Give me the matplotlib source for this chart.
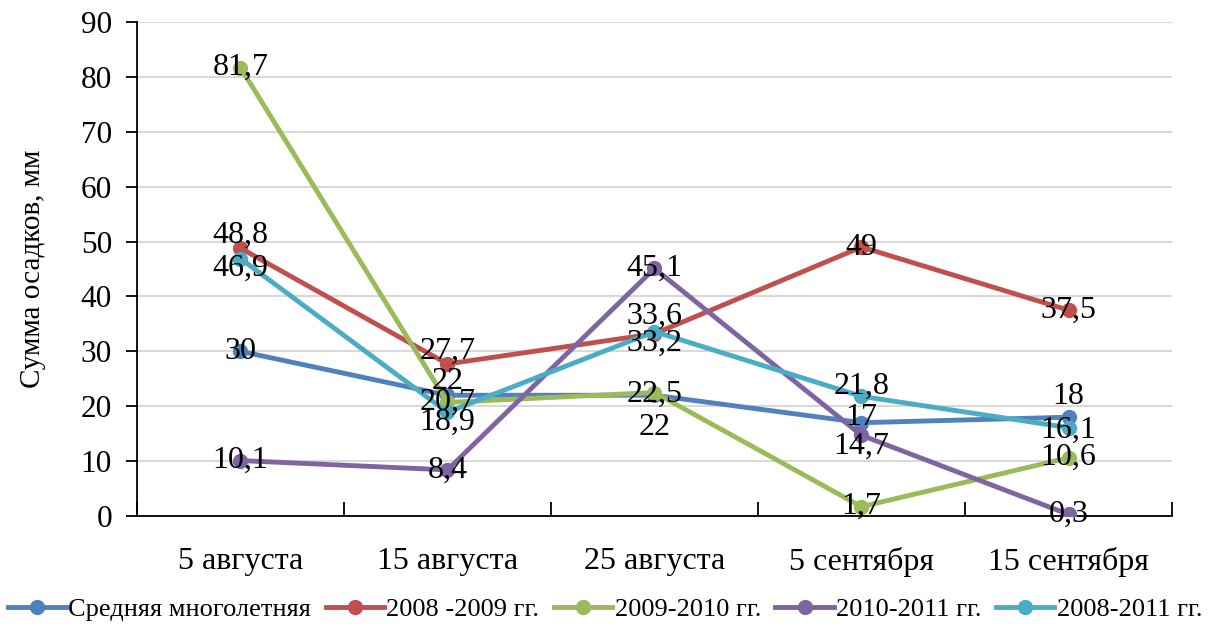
import matplotlib
matplotlib.use("Agg")
import matplotlib.pyplot as plt
from matplotlib.lines import Line2D

plt.rcParams['font.family'] = ['Liberation Serif', 'DejaVu Serif']

categories = ["5 августа", "15 августа", "25 августа", "5 сентября", "15 сентября"]

series_names = ["Средняя многолетняя", "2008 -2009 гг.", "2009-2010 гг.",
                "2010-2011 гг.", "2008-2011 гг."]
avg_long_term = [30, 22, 22, 17, 18]
y2008_2009 = [48.8, 27.7, 33.2, 49, 37.5]
y2009_2010 = [81.7, 20.7, 22.5, 1.7, 10.6]
y2010_2011 = [10.1, 8.4, 45.1, 14.7, 0.3]
y2008_2011 = [46.9, 18.9, 33.6, 21.8, 16.1]

y_ticks = [0, 10, 20, 30, 40, 50, 60, 70, 80, 90]
y_label = "Сумма осадков, мм"

colors = ["#4F81BD", "#C0504D", "#9BBB59", "#8064A2", "#4BACC6"]
all_series = [avg_long_term, y2008_2009, y2009_2010, y2010_2011, y2008_2011]

# vertical nudges of the value labels, in points
label_dy = [
    [0, 10, -23, 4, 15],
    [9, 9, -7, 0, 0],
    [0, 0, -1, 0, 0],
    [0, 0, 0, -8, 0],
    [-7, -7, 11, 7, -2],
]

fig = plt.figure(figsize=(12.1, 6.26), dpi=100)
ax = fig.add_axes([0.1132, 0.1757, 0.8554, 0.7892])

x = list(range(len(categories)))
for vals, c, name in zip(all_series, colors, series_names):
    ax.plot(x, vals, color=c, lw=3.5, marker='o', markersize=10,
            solid_capstyle='round', label=name, zorder=3)

for vals, dys in zip(all_series, label_dy):
    for xi, v, dy in zip(x, vals, dys):
        txt = f"{v:g}".replace('.', ',')
        ax.annotate(txt, (xi, v), xytext=(0, dy), textcoords='offset points',
                    ha='center', va='center', fontsize=23, color='black',
                    zorder=5, annotation_clip=False)

ax.set_xlim(-0.5, len(categories) - 0.5)
ax.set_ylim(0, 90)
ax.set_yticks(y_ticks)
ax.set_yticklabels([str(t) for t in y_ticks], fontsize=22.5)
ax.yaxis.grid(True, color='#D9D9D9', lw=1.5, zorder=0)
ax.set_axisbelow(True)

ax.set_xticks(x)
ax.set_xticklabels(categories, fontsize=23)
ax.tick_params(axis='x', length=0, pad=22)
ax.set_xticks([i + 0.5 for i in range(-1, len(categories))], minor=True)
ax.tick_params(axis='x', which='minor', direction='in', length=10, width=1.3, color='black')
ax.tick_params(axis='y', direction='out', length=8, width=1.3, pad=10)

for s in ['top', 'right']:
    ax.spines[s].set_visible(False)
for s in ['left', 'bottom']:
    ax.spines[s].set_linewidth(1.3)

ax.set_ylabel(y_label, fontsize=21)
ax.yaxis.set_label_coords(-0.088, 0.5)

handles = [Line2D([0], [0], color=c, lw=3.5, marker='o', markersize=10)
           for c in colors]
fig.legend(handles, series_names, loc='center', bbox_to_anchor=(0.5, 0.026),
           ncol=5, frameon=False, fontsize=19, handlelength=2.2,
           handletextpad=0.1, columnspacing=0.55, borderpad=0, borderaxespad=0)

fig.savefig("out.png", dpi=100)
